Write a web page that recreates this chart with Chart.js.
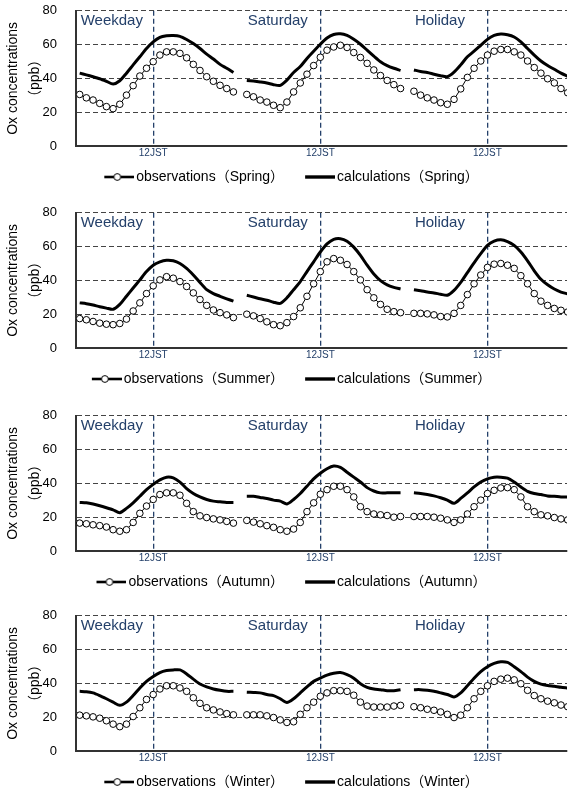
<!DOCTYPE html>
<html lang="en">
<head>
<meta charset="UTF-8">
<title>Ox concentrations</title>
<script src="https://cdn.jsdelivr.net/npm/chart.js"></script>
<style>
    html, body { margin: 0; padding: 0; background: #fff; overflow: hidden; }
    body { width: 572px; height: 790px; position: relative; }
    .panel { position: absolute; left: 0; width: 572px; height: 194px; }
</style>
</head>
<body>
<div class="panel" style="top:0px"><canvas id="c0" width="572" height="194"></canvas></div>
<div class="panel" style="top:202px"><canvas id="c1" width="572" height="194"></canvas></div>
<div class="panel" style="top:405px"><canvas id="c2" width="572" height="194"></canvas></div>
<div class="panel" style="top:605px"><canvas id="c3" width="572" height="194"></canvas></div>
<script>
// --- data (ppb), hours 1..24 for each day type ---
const seasons = ['Spring', 'Summer', 'Autumn', 'Winter'];
const dayTypes = ['Weekday', 'Saturday', 'Holiday'];
const noonLabel = '12JST';
const yTicks = [0, 20, 40, 60, 80];

const obsSpringWeekday  = [30.5, 28.5, 27.2, 25.2, 23.3, 22.1, 24.7, 30.1, 35.7, 41.4, 46.0, 49.9, 53.8, 55.7, 55.7, 54.8, 52.2, 48.3, 44.7, 41.0, 38.3, 35.9, 34.0, 32.0];
const calSpringWeekday  = [43.1, 42.1, 41.0, 39.8, 38.3, 36.7, 38.6, 43.1, 48.0, 52.8, 57.7, 61.6, 64.3, 65.2, 65.4, 64.9, 63.0, 60.6, 57.7, 54.4, 51.5, 48.3, 46.0, 43.5];
const obsSpringSaturday = [30.5, 29.1, 27.2, 26.0, 24.1, 22.7, 26.0, 32.0, 37.3, 42.5, 47.6, 52.5, 56.7, 58.6, 59.6, 58.3, 55.3, 52.4, 48.9, 45.0, 41.7, 38.8, 36.3, 34.0];
const calSpringSaturday = [38.8, 38.4, 37.9, 37.3, 36.3, 35.9, 39.0, 43.5, 47.0, 51.8, 56.1, 60.2, 63.9, 66.0, 66.4, 65.4, 63.1, 60.2, 56.7, 53.2, 49.9, 47.6, 46.0, 44.7];
const obsSpringHoliday  = [32.4, 30.1, 28.5, 27.2, 25.6, 24.7, 27.6, 33.8, 40.6, 46.0, 50.3, 53.8, 56.1, 57.1, 57.1, 55.7, 53.8, 50.3, 46.4, 43.1, 39.8, 37.3, 34.0, 31.5];
const calSpringHoliday  = [45.0, 44.1, 43.5, 42.5, 41.6, 41.0, 43.7, 48.0, 52.8, 56.1, 59.6, 63.1, 65.4, 66.2, 65.8, 64.5, 61.6, 57.7, 53.8, 50.3, 47.6, 45.4, 43.1, 41.2];

const obsSummerWeekday  = [17.4, 16.7, 15.7, 14.7, 14.1, 13.8, 14.5, 17.1, 21.9, 26.7, 32.2, 36.8, 40.3, 42.2, 41.3, 39.3, 36.4, 32.6, 28.7, 25.2, 22.5, 20.9, 19.6, 18.0];
const calSummerWeekday  = [26.7, 26.2, 25.4, 24.4, 23.6, 22.9, 25.8, 30.6, 35.5, 40.3, 45.2, 49.0, 51.0, 51.9, 51.6, 50.0, 47.1, 43.2, 38.8, 34.5, 32.2, 30.6, 29.1, 27.7];
const obsSummerSaturday = [20.0, 19.0, 17.4, 15.5, 13.8, 13.2, 15.0, 18.6, 23.8, 30.6, 38.0, 45.2, 51.0, 52.9, 51.9, 49.4, 45.2, 40.3, 34.5, 29.7, 25.8, 22.9, 21.5, 20.9];
const calSummerSaturday = [31.2, 30.2, 29.1, 28.3, 27.1, 26.4, 29.7, 34.5, 39.3, 45.2, 51.0, 56.8, 61.6, 64.3, 64.7, 63.2, 59.7, 54.8, 49.0, 43.8, 39.9, 37.4, 35.9, 34.9];
const obsSummerHoliday  = [20.5, 20.5, 20.2, 19.6, 18.6, 18.4, 20.5, 25.2, 31.6, 38.0, 43.2, 47.7, 49.6, 50.0, 49.0, 47.1, 42.8, 38.0, 32.2, 27.7, 25.2, 23.4, 22.3, 21.3];
const calSummerHoliday  = [34.5, 33.9, 33.1, 32.6, 31.8, 31.2, 34.1, 38.8, 44.6, 50.4, 55.8, 60.7, 63.2, 64.0, 63.0, 60.7, 56.8, 51.6, 45.7, 40.7, 37.4, 34.9, 33.1, 32.0];

const obsAutumnWeekday  = [16.5, 16.1, 15.5, 15.0, 14.2, 12.6, 11.7, 12.6, 16.9, 22.3, 26.6, 30.5, 33.4, 34.4, 34.4, 33.0, 28.2, 23.3, 20.8, 19.8, 19.0, 18.4, 17.5, 16.5];
const calAutumnWeekday  = [28.7, 28.5, 27.8, 26.8, 25.6, 24.3, 22.7, 25.2, 28.5, 32.4, 36.3, 39.4, 42.1, 43.7, 43.3, 40.8, 36.9, 34.0, 32.0, 30.5, 29.5, 29.1, 28.7, 28.7];
const obsAutumnSaturday = [18.1, 17.1, 16.1, 15.0, 14.0, 12.6, 11.7, 13.0, 16.9, 23.3, 28.5, 33.6, 36.3, 38.3, 38.3, 36.3, 32.0, 26.2, 23.3, 21.9, 21.4, 21.0, 20.0, 20.4];
const calAutumnSaturday = [32.4, 32.4, 31.7, 31.1, 30.1, 29.5, 27.8, 30.5, 34.0, 38.3, 42.7, 46.0, 48.7, 50.3, 49.5, 46.6, 43.7, 40.8, 37.5, 35.5, 34.4, 34.4, 34.4, 34.4];
const obsAutumnHoliday  = [20.4, 20.4, 20.4, 20.0, 19.4, 18.4, 16.9, 18.4, 21.9, 26.2, 30.1, 34.0, 35.9, 37.3, 37.5, 36.3, 32.0, 26.2, 23.3, 21.4, 20.8, 19.8, 19.0, 18.4];
const calAutumnHoliday  = [34.4, 34.0, 33.4, 32.6, 31.5, 30.1, 28.2, 31.1, 34.4, 37.9, 40.8, 42.7, 43.7, 43.7, 43.1, 40.8, 37.9, 35.3, 34.0, 33.4, 32.6, 32.4, 32.0, 32.0];

const obsWinterWeekday  = [21.2, 20.8, 20.2, 19.4, 17.9, 15.9, 14.4, 15.9, 20.4, 25.6, 30.5, 33.4, 36.7, 38.6, 38.6, 37.3, 35.3, 31.5, 28.2, 25.6, 24.3, 23.1, 22.1, 21.4];
const calWinterWeekday  = [35.3, 35.1, 34.4, 32.8, 30.9, 28.9, 27.0, 28.9, 32.8, 37.3, 41.2, 44.1, 46.4, 47.6, 48.0, 48.0, 45.6, 42.5, 39.6, 37.9, 36.7, 35.9, 35.3, 35.3];
const obsWinterSaturday = [21.4, 21.4, 21.4, 20.8, 19.8, 18.4, 16.9, 17.3, 21.7, 25.6, 28.9, 32.4, 34.4, 35.7, 35.7, 35.3, 33.0, 28.9, 26.6, 26.0, 26.0, 26.0, 26.6, 27.0];
const calWinterSaturday = [34.8, 34.6, 34.4, 33.4, 32.8, 30.9, 28.7, 30.9, 34.4, 37.9, 41.2, 43.1, 44.9, 46.0, 46.4, 45.2, 43.1, 39.8, 37.7, 36.7, 36.3, 35.7, 35.7, 36.3];
const obsWinterHoliday  = [26.2, 25.6, 24.7, 24.1, 23.1, 21.7, 19.8, 21.2, 25.6, 30.9, 35.3, 38.6, 41.2, 42.5, 43.1, 42.1, 39.8, 35.9, 32.8, 30.9, 29.5, 28.5, 27.2, 26.2];
const calWinterHoliday  = [36.3, 36.3, 35.9, 35.3, 34.4, 33.4, 32.0, 34.4, 38.6, 43.1, 47.0, 49.9, 51.8, 52.8, 52.4, 49.9, 47.0, 43.7, 41.2, 39.6, 38.8, 38.3, 37.7, 37.3];

const obsBySeason = [
    [obsSpringWeekday, obsSpringSaturday, obsSpringHoliday],
    [obsSummerWeekday, obsSummerSaturday, obsSummerHoliday],
    [obsAutumnWeekday, obsAutumnSaturday, obsAutumnHoliday],
    [obsWinterWeekday, obsWinterSaturday, obsWinterHoliday]
];
const calBySeason = [
    [calSpringWeekday, calSpringSaturday, calSpringHoliday],
    [calSummerWeekday, calSummerSaturday, calSummerHoliday],
    [calAutumnWeekday, calAutumnSaturday, calAutumnHoliday],
    [calWinterWeekday, calWinterSaturday, calWinterHoliday]
];

// each day takes 24 hourly slots plus one empty slot (line break)
const SLOTS = 25;
const noonTicks = dayTypes.map((d, i) => i * SLOTS + 11);

const NAVY = '#24406a';
Chart.defaults.font.family = "'Liberation Sans', Arial, 'Noto Sans CJK JP', sans-serif";
Chart.defaults.color = '#000';

function toPoints(days) {
    const pts = [];
    days.forEach((vals, d) => {
        vals.forEach((v, h) => pts.push({ x: d * SLOTS + h, y: v }));
        pts.push({ x: d * SLOTS + 24, y: null });
    });
    return pts;
}

// legend symbols
function makeIcon(withCircle) {
    const c = document.createElement('canvas');
    c.width = 46; c.height = 12;
    const g = c.getContext('2d');
    g.strokeStyle = '#000';
    g.lineWidth = withCircle ? 2.6 : 3.4;
    g.beginPath(); g.moveTo(16, 6); g.lineTo(46, 6); g.stroke();
    if (withCircle) {
        g.lineWidth = 1;
        g.fillStyle = '#fff';
        g.beginPath(); g.arc(29, 6, 3.4, 0, Math.PI * 2); g.fill(); g.stroke();
    }
    return c;
}
const obsIcon = makeIcon(true);
const calIcon = makeIcon(false);

const dayLabelPlugin = {
    id: 'dayLabels',
    afterDraw(chart) {
        const ctx = chart.ctx;
        const xs = chart.scales.x;
        ctx.save();
        ctx.font = "15px 'Liberation Sans', Arial, sans-serif";
        ctx.fillStyle = NAVY;
        ctx.textBaseline = 'alphabetic';
        dayTypes.forEach((name, i) => {
            ctx.fillText(name, xs.getPixelForValue(i * SLOTS) + 1, chart.chartArea.top + 14);
        });
        ctx.restore();
    }
};

seasons.forEach((season, s) => {
    const ctx = document.getElementById('c' + s).getContext('2d');
    new Chart(ctx, {
        type: 'line',
        data: {
            datasets: [
                {
                    label: 'observations（' + season + '）',
                    data: toPoints(obsBySeason[s]),
                    borderColor: '#000',
                    borderWidth: 1,
                    pointRadius: 3.3,
                    pointBackgroundColor: '#fff',
                    pointBorderColor: '#000',
                    pointBorderWidth: 1,
                    spanGaps: false,
                    order: 0
                },
                {
                    label: 'calculations（' + season + '）',
                    data: toPoints(calBySeason[s]),
                    borderColor: '#000',
                    borderWidth: 3,
                    pointRadius: 0,
                    tension: 0.25,
                    spanGaps: false,
                    order: 1
                }
            ]
        },
        options: {
            responsive: false,
            animation: false,
            layout: { padding: { top: 8, left: 0, right: 0, bottom: 0 } },
            plugins: {
                tooltip: { enabled: false },
                legend: {
                    position: 'bottom',
                    labels: {
                        usePointStyle: true,
                        pointStyleWidth: 36,
                        padding: 10,
                        color: '#000',
                        font: { size: 14 },
                        generateLabels(chart) {
                            const items = Chart.defaults.plugins.legend.labels.generateLabels(chart);
                            items.forEach(it => { it.pointStyle = it.datasetIndex === 0 ? obsIcon : calIcon; });
                            return items;
                        }
                    }
                }
            },
            scales: {
                x: {
                    type: 'linear',
                    min: -0.55,
                    max: 72.9,
                    afterBuildTicks(scale) { scale.ticks = noonTicks.map(v => ({ value: v })); },
                    afterFit(scale) { scale.height = 14; },
                    ticks: {
                        callback: () => noonLabel,
                        color: NAVY,
                        font: { size: 10 },
                        padding: 1,
                        maxRotation: 0,
                        autoSkip: false
                    },
                    grid: { color: NAVY, lineWidth: 1.3, drawTicks: false },
                    border: { display: true, color: '#333', width: 2, dash: [5, 3] }
                },
                y: {
                    min: 0,
                    max: 80,
                    afterBuildTicks(scale) { scale.ticks = yTicks.map(v => ({ value: v })); },
                    afterFit(scale) { scale.width = 76; },
                    ticks: { font: { size: 13 }, padding: 3, color: '#000' },
                    grid: { color: '#444', lineWidth: 1, drawTicks: true, tickLength: 16, tickWidth: 0 },
                    border: { display: true, color: '#333', width: 2, dash: [5, 3] },
                    title: {
                        display: true,
                        text: ['Ox concentrations', '（ppb）'],
                        font: { size: 14, lineHeight: 1.5714 },
                        color: '#000',
                        padding: { top: 2, bottom: 0 }
                    }
                }
            }
        },
        plugins: [dayLabelPlugin]
    });
});
</script>
</body>
</html>
